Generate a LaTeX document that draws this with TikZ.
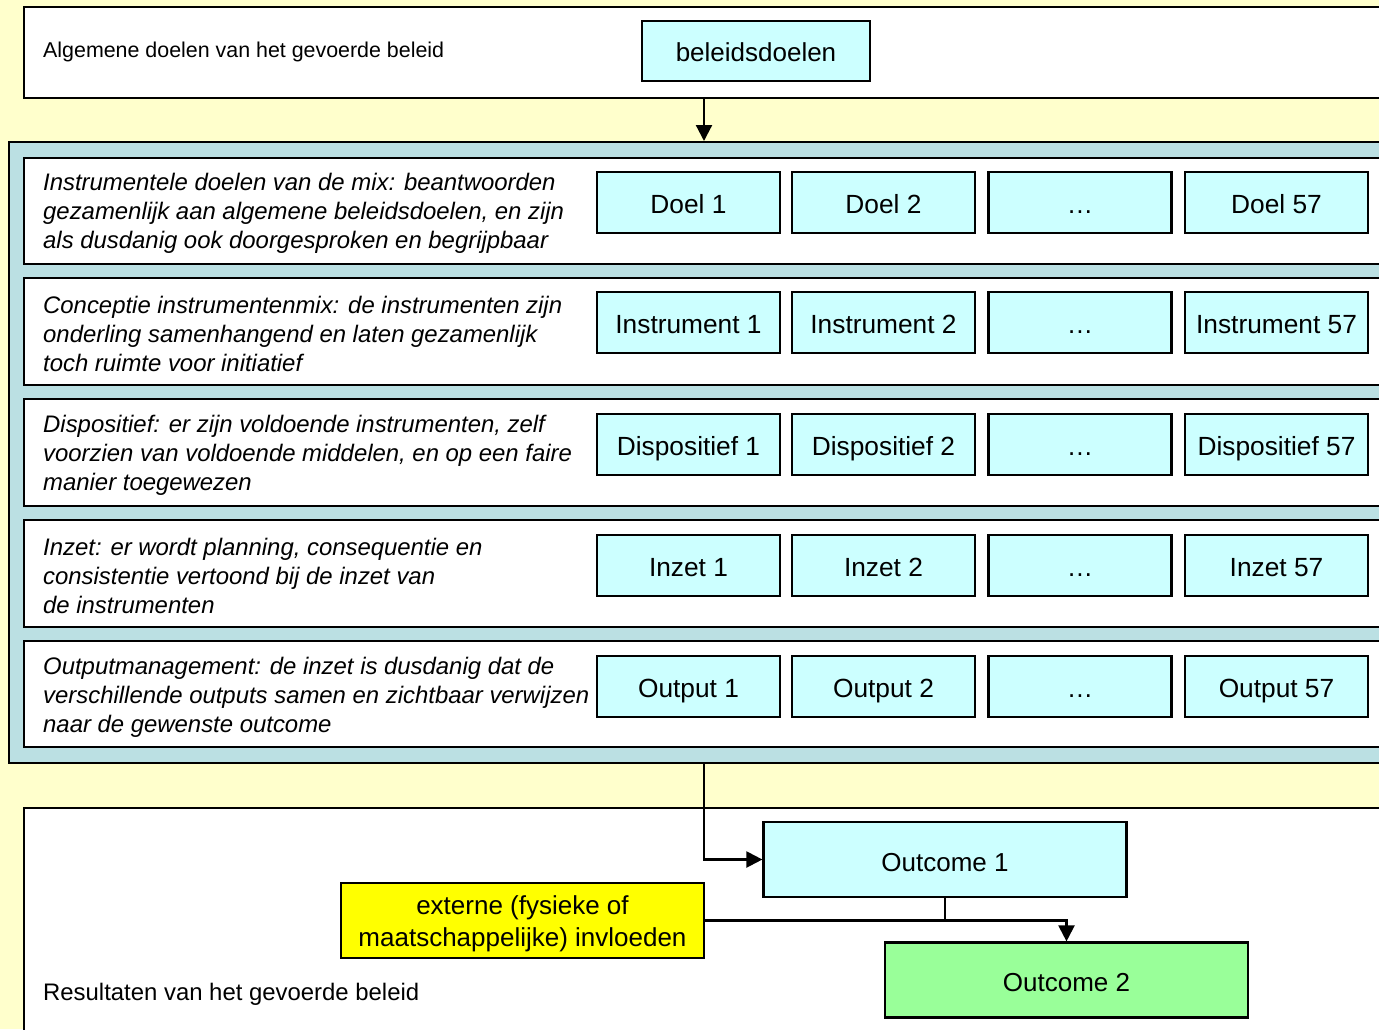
\documentclass[tikz,border=0pt]{standalone}
\usepackage{fontspec}
\setmainfont{Liberation Sans}
\usetikzlibrary{arrows.meta}

\definecolor{bgyellow}{HTML}{FFFFCC}
\definecolor{panelblue}{HTML}{BBE0E3}
\definecolor{boxcyan}{HTML}{CCFFFF}
\definecolor{boxgreen}{HTML}{99FF99}
\definecolor{boxyellow}{HTML}{FFFF00}

\tikzset{
  band/.style={draw,line width=2.2pt,fill=white,anchor=north west,inner sep=0pt},
  lbl/.style={draw,line width=2.2pt,fill=boxcyan,minimum width=183pt,
    minimum height=61pt,inner sep=0pt,text height=22pt,text depth=0pt,
    font=\fontsize{26.3}{30}\selectfont},
  rowtxt/.style={anchor=west,align=left,inner sep=0pt,
    font=\fontsize{23.9}{29}\selectfont\itshape},
  plain/.style={anchor=west,inner sep=0pt,font=\fontsize{21.4}{26}\selectfont},
  res/.style={draw,line width=2.2pt,minimum width=363pt,minimum height=75pt,
    inner sep=0pt,align=center,font=\fontsize{26}{32}\selectfont},
  arr/.style={line width=2.2pt,-{Triangle[length=16pt,width=16pt]}}
}

\begin{document}
\begin{tikzpicture}[x=1pt,y=-1pt]

	\useasboundingbox (0,0) rectangle (1379,1029);
	\clip (0,0) rectangle (1379,1029);
	\fill[bgyellow] (0,0) rectangle (1379,1029);
	\coordinate (spine) at (704,0);

	% top: general goals
	\node[band,minimum width=1377pt,minimum height=91pt] (topbox) at (23,6) {};
	\node[plain] (toptxt) at (43,52) {Algemene doelen van het gevoerde beleid};
	\node[lbl,minimum width=228pt,minimum height=60pt,text height=20pt,font=\fontsize{26}{30}\selectfont]
	  (beleid) at (756,51) {beleidsdoelen};

	% the mix
	\node[draw,line width=2.4pt,fill=panelblue,anchor=north west,inner sep=0pt,
	  minimum width=1392pt,minimum height=621pt] (panel) at (8,141) {};

	\node[band,minimum width=1377pt,minimum height=106pt] (row1) at (23,157) {};
	\node[band,minimum width=1377pt,minimum height=107pt] (row2) at (23,277) {};
	\node[band,minimum width=1377pt,minimum height=107pt] (row3) at (23,398) {};
	\node[band,minimum width=1377pt,minimum height=107pt] (row4) at (23,519) {};
	\node[band,minimum width=1377pt,minimum height=106pt] (row5) at (23,640) {};

	\node[rowtxt] (txt1) at (43,213) {Instrumentele doelen van de mix: beantwoorden\\
	  gezamenlijk aan algemene beleidsdoelen, en zijn\\als dusdanig ook doorgesproken en begrijpbaar};
	\node[rowtxt] (txt2) at (43,334) {Conceptie instrumentenmix: de instrumenten zijn\\
	  onderling samenhangend en laten gezamenlijk\\toch ruimte voor initiatief};
	\node[rowtxt] (txt3) at (43,455) {Dispositief: er zijn voldoende instrumenten, zelf\\
	  voorzien van voldoende middelen, en op een faire\\manier toegewezen};
	\node[rowtxt] (txt4) at (43,576) {Inzet: er wordt planning, consequentie en\\
	  consistentie vertoond bij de inzet van\\de instrumenten};
	\node[rowtxt] (txt5) at (43,697) {Outputmanagement: de inzet is dusdanig dat de\\
	  verschillende outputs samen en zichtbaar verwijzen\\naar de gewenste outcome};

	\node[lbl] (doel1) at (688.5,202.5) {Doel 1}; \node[lbl] (doel2) at (883.5,202.5) {Doel 2};
	\node[lbl] (doeldots) at (1080,202.5) {…}; \node[lbl] (doel57) at (1276.5,202.5) {Doel 57};

	\node[lbl] (instr1) at (688.5,322.5) {Instrument 1}; \node[lbl] (instr2) at (883.5,322.5) {Instrument 2};
	\node[lbl] (instrdots) at (1080,322.5) {…}; \node[lbl] (instr57) at (1276.5,322.5) {Instrument 57};

	\node[lbl] (disp1) at (688.5,444.5) {Dispositief 1}; \node[lbl] (disp2) at (883.5,444.5) {Dispositief 2};
	\node[lbl] (dispdots) at (1080,444.5) {…}; \node[lbl] (disp57) at (1276.5,444.5) {Dispositief 57};

	\node[lbl] (inzet1) at (688.5,565.5) {Inzet 1}; \node[lbl] (inzet2) at (883.5,565.5) {Inzet 2};
	\node[lbl] (inzetdots) at (1080,565.5) {…}; \node[lbl] (inzet57) at (1276.5,565.5) {Inzet 57};

	\node[lbl] (output1) at (688.5,686.5) {Output 1}; \node[lbl] (output2) at (883.5,686.5) {Output 2};
	\node[lbl] (outputdots) at (1080,686.5) {…}; \node[lbl] (output57) at (1276.5,686.5) {Output 57};

	% results
	\node[band,minimum width=1377pt,minimum height=240pt] (botbox) at (23,807) {};
	\node[plain,font=\fontsize{23.9}{28}\selectfont] (bottxt) at (43,994) {Resultaten van het gevoerde beleid};
	\node[res,fill=boxcyan,text height=23pt,text depth=0pt] (out1) at (945,859.5) {Outcome 1};
	\node[res,fill=boxyellow] (ext) at (522.5,920.5) {\rule{0pt}{25pt}externe (fysieke of\\maatschappelijke) invloeden};
	\node[res,fill=boxgreen,text height=23pt,text depth=0pt] (out2) at (1066.5,980) {Outcome 2};

	\draw[arr] (spine |- topbox.south) -- (spine |- panel.north);
	\draw[arr] (spine |- panel.south) |- (out1.west);
	\draw[line width=2.2pt] (out1.south) -- (out1.south |- ext.east);
	\draw[arr] (ext.east) -| (out2.north);
\end{tikzpicture}
\end{document}
